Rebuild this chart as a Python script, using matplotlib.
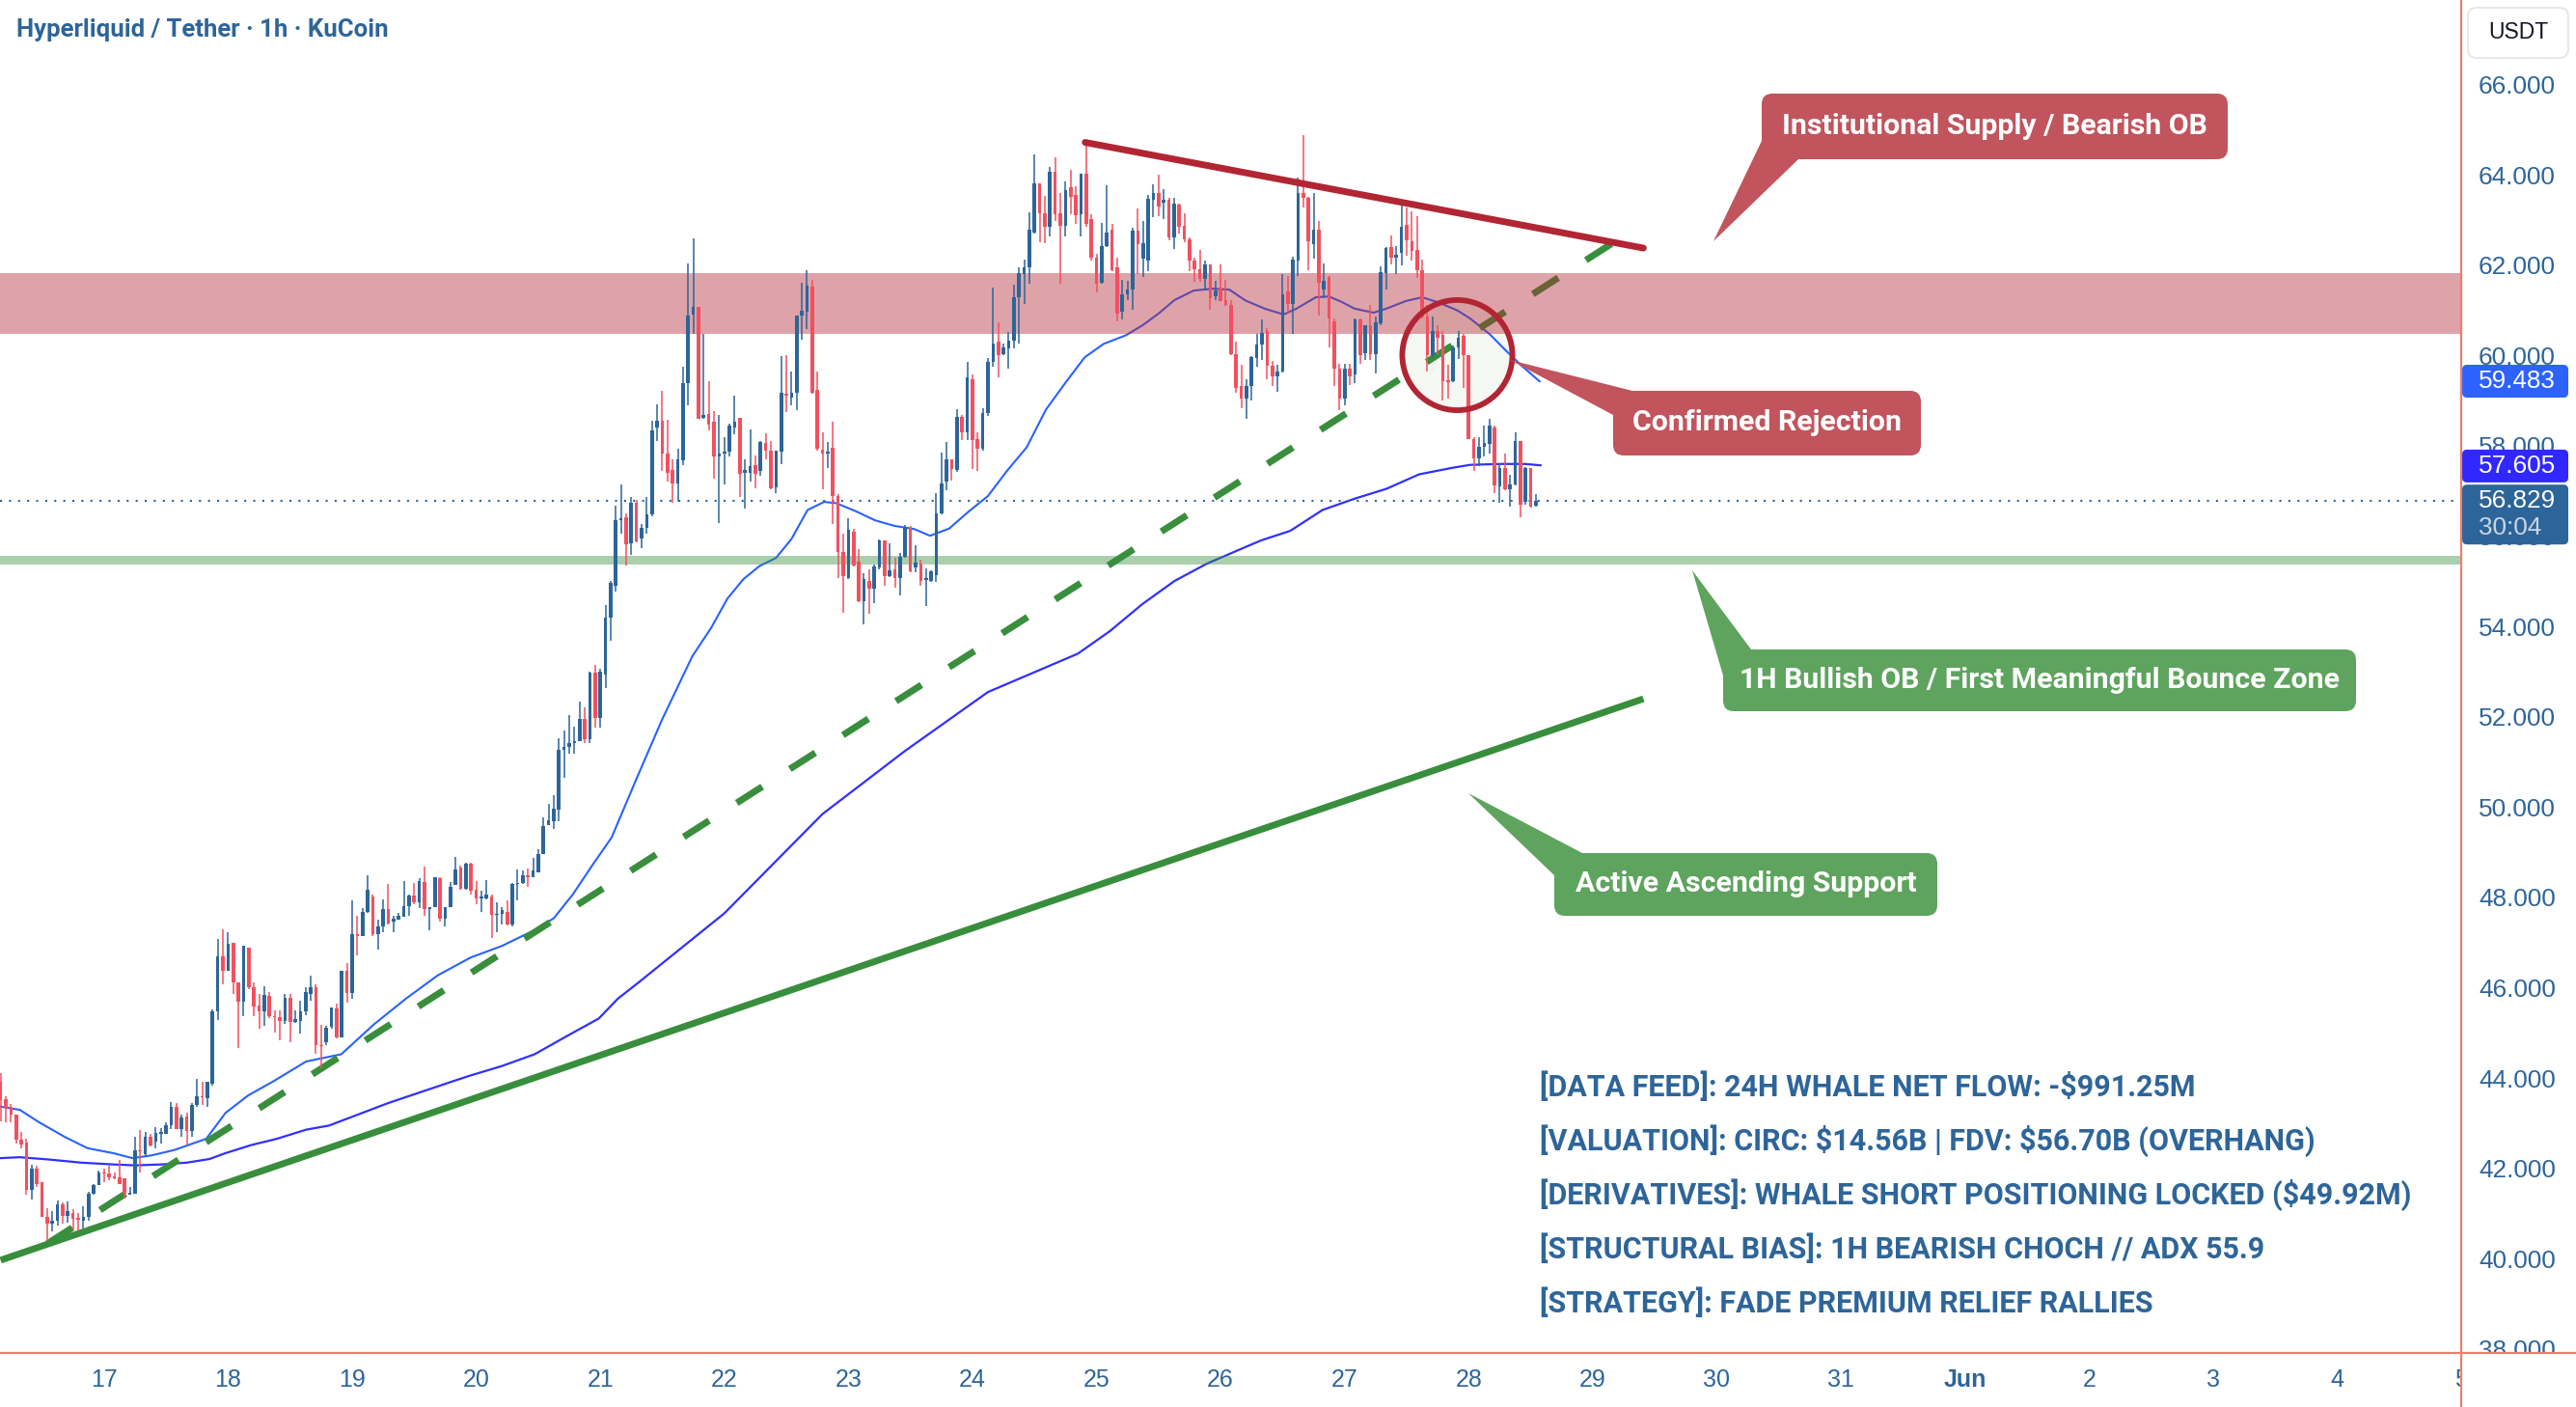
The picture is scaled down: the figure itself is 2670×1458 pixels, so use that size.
import numpy as np
import matplotlib
matplotlib.use('Agg')
import matplotlib.pyplot as plt
from matplotlib.patches import FancyBboxPatch, Polygon, Ellipse, Rectangle
from matplotlib.transforms import Affine2D, blended_transform_factory
from matplotlib.lines import Line2D

# ---------------- DATA ----------------
# hourly candles, x = hours since 16 May 04:00
O = [43.96,43.58,43.42,43.25,42.68,42.62,41.57,42.04,41.75,40.97,40.82,40.90,41.25,41.00,41.07,40.95,40.90,40.97,41.50,41.68,
     41.96,41.93,41.87,41.86,41.84,41.48,41.49,42.45,42.36,42.75,42.64,42.82,42.82,43.00,43.41,42.93,43.21,42.87,43.46,43.65,
     43.60,43.92,45.53,46.74,46.43,47.04,46.17,45.74,46.95,46.07,45.65,45.53,45.88,45.43,45.40,45.31,45.83,45.29,45.31,45.53,
     45.92,46.06,44.79,44.85,45.18,45.59,44.95,46.42,45.94,47.24,47.20,47.74,48.07,47.24,47.42,47.80,47.51,47.57,47.62,47.86,
     48.09,47.94,48.40,47.80,47.83,48.47,47.59,47.83,48.32,48.72,48.25,48.79,48.22,48.03,48.03,48.07,47.66,47.68,47.74,47.46,
     48.35,48.38,48.55,48.51,48.60,49.01,49.66,49.73,50.00,51.32,51.39,51.47,51.52,52.00,51.56,53.03,52.02,52.98,54.25,54.95,
     56.40,56.46,55.89,56.80,55.99,56.24,56.54,58.46,58.61,57.89,57.52,57.22,57.74,59.45,60.95,61.12,58.68,58.75,58.58,57.81,
     57.89,57.93,58.46,58.68,57.46,57.46,57.63,57.49,58.11,57.94,57.13,57.92,59.20,59.13,59.22,60.93,61.03,61.57,59.30,57.96,
     57.87,58.01,56.94,55.71,55.12,56.16,55.49,54.62,55.07,54.89,55.35,55.96,55.17,55.31,55.12,55.59,56.23,55.35,55.44,55.09,
     55.06,55.19,56.56,57.26,57.76,57.51,58.70,58.34,59.52,58.21,57.99,58.77,59.91,60.35,60.09,60.20,60.38,61.34,61.86,62.01,
     62.78,63.87,63.21,62.90,64.13,63.21,62.93,63.78,63.61,63.18,64.08,63.08,62.22,61.66,62.48,62.84,62.00,61.02,61.40,61.51,
     62.81,62.20,62.15,63.51,63.66,63.44,63.50,62.67,63.40,62.93,62.63,62.16,61.96,61.74,62.07,61.36,61.55,61.28,61.17,60.09,
     59.37,59.09,59.37,60.00,60.29,60.60,59.82,59.60,59.70,61.48,61.19,62.15,63.66,63.54,62.51,62.83,61.51,61.80,60.80,59.75,
     59.09,59.77,59.63,60.84,60.10,60.73,60.09,60.77,61.88,62.45,62.21,62.33,62.94,62.58,62.38,61.94,60.91,60.07,60.60,60.51,
     59.50,59.48,60.23,60.48,60.05,58.20,57.77,58.02,58.09,58.45,57.15,57.56,57.10,57.20,58.15,56.81,57.56,56.73]
Hh = [44.17,43.64,43.48,43.25,42.85,42.71,42.14,42.11,41.75,41.18,41.11,41.34,41.29,41.32,41.14,41.07,41.22,41.54,41.71,42.00,
     42.04,42.11,41.96,42.25,41.84,41.64,42.75,42.91,42.85,42.82,42.96,42.94,43.07,43.53,43.51,43.25,43.28,43.50,44.03,43.96,
     43.96,45.58,47.13,47.34,47.28,47.04,46.17,46.99,46.95,46.17,45.92,46.09,45.95,45.56,45.56,45.92,45.92,45.56,45.77,46.07,
     46.31,46.13,45.24,45.20,45.61,45.70,46.42,46.59,47.99,47.64,47.81,48.55,48.12,47.55,48.00,48.35,47.64,47.72,48.42,48.12,
     48.38,48.47,48.73,47.83,48.51,48.51,47.83,48.40,48.95,48.75,48.81,48.81,48.42,48.20,48.44,48.12,47.94,47.83,47.99,48.38,
     48.68,48.64,48.70,48.93,49.12,49.82,50.12,50.32,51.58,51.75,52.09,51.84,52.39,52.26,53.06,53.20,53.12,54.53,55.05,56.72,
     57.19,56.55,56.92,56.85,56.31,56.92,58.61,58.96,59.27,58.63,57.75,57.99,59.80,62.10,62.64,61.12,60.53,59.48,58.81,58.73,
     58.25,58.54,59.16,58.68,57.75,58.41,57.84,58.15,58.32,58.16,57.94,60.03,60.05,59.70,60.94,61.67,61.94,61.73,59.70,58.34,
     58.13,58.58,56.99,56.11,56.44,56.21,55.76,55.23,55.32,55.42,55.97,55.96,55.90,55.57,55.69,56.30,56.28,55.85,55.53,55.33,
     55.29,57.01,57.91,58.14,57.76,58.86,58.74,59.91,59.64,58.36,58.89,59.99,61.55,60.78,60.31,60.57,61.62,62.01,62.18,63.23,
     64.51,63.87,63.59,64.23,64.43,63.65,63.91,64.17,63.80,64.08,64.79,63.18,62.30,62.99,63.83,62.97,62.22,61.73,61.71,62.88,
     63.31,63.03,63.61,63.85,64.06,63.74,63.55,63.55,63.42,63.20,62.67,62.21,62.39,62.15,62.07,61.70,62.06,61.73,61.28,60.35,
     59.84,59.52,60.03,60.52,60.84,60.66,59.94,59.84,61.85,61.81,62.24,63.99,64.93,63.56,63.65,63.04,62.10,61.81,60.87,59.86,
     59.87,59.87,60.87,60.87,60.73,61.17,60.91,62.03,62.45,62.72,62.47,63.40,63.33,63.24,63.14,62.17,61.17,60.91,60.73,60.59,
     59.84,60.27,60.59,60.52,60.05,58.25,58.25,58.49,58.66,58.49,57.67,57.88,57.40,58.34,58.15,57.59,57.56,56.99]
L = [43.10,43.07,43.07,42.60,42.50,41.47,41.37,41.64,40.97,40.43,40.65,40.79,40.82,40.86,40.68,40.65,40.72,40.90,41.47,41.68,
     41.75,41.79,41.82,41.71,41.39,41.47,41.49,41.96,42.30,42.53,42.50,42.60,42.82,42.93,42.93,42.75,42.57,42.75,43.42,43.46,
     43.42,43.89,45.33,46.13,46.42,45.92,44.71,45.42,46.02,45.42,45.15,45.20,45.38,45.05,44.88,45.26,44.85,45.28,45.04,45.45,
     45.77,44.58,44.28,44.78,45.15,44.93,44.95,45.72,45.80,46.78,47.20,47.72,47.20,46.90,47.29,47.46,47.29,47.55,47.62,47.64,
     47.90,47.81,47.64,47.33,47.83,47.51,47.42,47.83,48.32,48.23,48.23,48.12,47.90,47.74,48.00,47.16,47.29,47.46,47.44,47.42,
     47.98,48.36,48.29,48.51,48.60,49.01,49.66,49.57,49.73,50.71,51.23,51.23,51.52,51.46,51.48,51.81,51.81,52.68,53.74,54.83,
     56.10,55.40,55.64,55.92,55.78,56.11,56.49,58.16,57.49,57.27,56.78,56.81,57.63,58.95,60.52,58.66,58.66,58.39,57.32,56.35,
     57.20,57.81,58.31,56.92,56.66,57.27,57.11,57.38,57.75,57.10,57.01,57.65,58.79,58.95,58.84,60.41,60.64,59.20,57.95,57.10,
     57.56,56.31,55.12,54.35,55.10,55.39,54.60,54.09,54.33,54.57,55.32,54.96,55.14,54.92,54.73,55.57,55.26,55.26,54.95,54.50,
     55.03,55.03,56.54,57.07,57.29,57.48,58.17,58.17,57.54,57.50,57.95,58.71,59.81,59.56,60.05,59.75,60.20,60.31,61.19,61.64,
     62.75,62.56,62.54,62.69,63.03,61.64,62.69,63.18,62.96,62.69,62.91,62.15,61.44,61.64,62.45,61.92,60.81,60.86,61.28,61.06,
     61.86,61.79,61.91,63.12,63.14,63.08,62.60,62.41,62.75,62.56,61.92,61.68,61.68,61.49,61.06,61.28,61.25,61.14,60.05,59.22,
     58.88,58.66,59.06,59.80,59.95,59.53,59.37,59.25,59.67,61.00,60.52,61.81,63.33,61.94,62.19,60.94,61.31,60.23,59.38,58.84,
     58.95,59.39,59.45,59.87,59.96,59.95,59.66,60.73,61.51,62.07,61.85,62.05,62.26,62.15,61.76,60.87,59.70,60.00,60.09,59.06,
     59.09,59.46,59.98,59.34,58.20,57.49,57.60,57.81,57.88,57.01,56.78,57.06,56.70,57.17,56.46,56.74,56.68,56.70]
C = [43.57,43.39,43.25,42.68,42.58,41.57,42.04,41.71,40.97,40.82,40.90,41.25,41.00,41.10,40.93,40.92,40.97,41.50,41.68,41.96,
     41.93,41.86,41.84,41.71,41.50,41.52,42.45,42.43,42.75,42.57,42.83,42.85,43.01,43.41,42.93,43.17,42.87,43.46,43.64,43.62,
     43.96,45.53,46.74,46.43,47.02,46.17,45.74,46.99,46.07,45.63,45.53,45.90,45.42,45.40,45.31,45.83,45.29,45.36,45.53,45.95,
     46.06,44.78,44.76,45.17,45.61,44.95,46.42,45.94,47.24,47.20,47.74,48.22,47.24,47.42,47.80,47.48,47.59,47.64,47.86,48.09,
     47.94,48.42,47.80,47.83,48.49,47.59,47.83,48.29,48.68,48.25,48.79,48.20,48.03,48.07,48.12,47.66,47.68,47.77,47.46,48.35,
     48.38,48.55,48.49,48.64,49.01,49.64,49.77,50.01,51.32,51.39,51.47,51.52,52.00,51.56,53.04,52.02,53.06,54.25,55.01,56.40,
     56.45,55.88,56.80,55.94,56.24,56.54,58.39,58.61,57.88,57.45,57.22,57.75,59.45,60.94,61.12,58.66,58.73,58.52,57.82,57.89,
     57.93,58.51,58.59,57.44,57.52,57.61,57.44,58.13,57.94,57.11,57.94,59.22,59.16,59.23,60.93,61.05,61.60,59.23,57.99,57.87,
     57.92,56.94,55.71,55.16,56.19,55.40,54.62,55.10,54.88,55.39,55.96,55.16,55.30,55.12,55.59,56.23,55.28,55.46,55.07,55.10,
     55.27,56.56,57.22,57.76,57.54,58.70,58.34,59.56,58.19,57.99,58.77,59.91,60.31,60.05,60.24,60.38,61.34,61.88,62.01,62.84,
     63.87,63.21,62.90,64.11,63.18,62.93,63.71,63.57,63.16,64.08,62.96,62.21,61.64,62.48,62.78,61.94,60.98,61.40,61.51,62.81,
     62.51,62.54,63.53,63.66,63.35,63.50,62.67,63.42,62.90,62.63,62.15,61.96,61.74,62.07,61.32,61.49,61.25,61.17,60.09,59.34,
     59.09,59.37,60.02,60.30,60.55,59.82,59.58,59.70,61.41,61.19,62.17,63.65,63.54,62.58,62.83,61.66,61.71,60.87,59.77,59.09,
     59.77,59.58,60.86,60.07,60.73,60.09,60.79,61.90,62.44,62.22,62.28,62.90,62.60,62.37,61.94,60.91,60.07,60.59,60.44,59.48,
     59.46,60.23,60.44,60.05,58.20,57.77,58.02,58.11,58.49,57.17,57.56,57.10,57.20,58.15,56.74,57.56,56.70,56.83]

ema_fast_h = [0,3.7,7.5,12.4,16.8,21.8,25.5,29.2,33.6,39.8,43.5,47.9,52.9,59.1,65.9,72.2,78.4,84.6,90.9,97.0,103.3,107,110.7,
              114.5,118.2,123.2,128,133.8,137.5,140.6,143.7,146.8,150.0,153.0,156.1,159.3,161.7,165.5,169.2,172.9,176.7,179.8,
              183.5,187.3,191.0,194.7,198.5,202.2,206.0,209.7,213.4,217.7,220.9,224.0,227.1,230.8,234.5,237.7,240.8,244.5,248.2,
              250.7,254.4,256.9,259.4,261.9,265.6,268.1,271.9,275.0,278.1,281.8,284.3,288.1,291.2,294.3,297.7]
ema_fast_v = [43.42,43.35,43.07,42.75,42.50,42.39,42.28,42.34,42.46,42.71,43.28,43.67,43.99,44.42,44.58,45.24,45.81,46.33,46.72,
              46.98,47.33,47.59,48.12,48.77,49.38,50.73,52.0,53.39,54.03,54.67,55.10,55.39,55.57,55.99,56.63,56.81,56.78,56.60,
              56.40,56.28,56.21,56.06,56.22,56.60,56.94,57.50,58.02,58.85,59.45,60.01,60.31,60.50,60.72,60.98,61.28,61.49,61.53,
              61.51,61.27,61.09,60.96,61.09,61.34,61.36,61.24,61.09,61.00,61.09,61.26,61.34,61.23,61.05,60.87,60.52,60.16,59.82,59.48]
ema_slow_h = [0,3.7,9.3,15.6,21.8,26.1,31.1,36,40.4,43.5,48.5,53.5,59.1,63.5,75,87.7,90.9,97.0,103.3,109.5,115.7,119.4,123.2,
              140,159,175,191,208.4,214.6,220.9,227.1,233.3,240.8,243.9,249.5,255.7,261.9,268.1,274.4,280.6,284.3,289.9,294.9,297.9]
ema_slow_v = [42.28,42.30,42.25,42.18,42.14,42.12,42.14,42.18,42.26,42.39,42.57,42.71,42.91,43.00,43.5,43.99,44.11,44.32,44.58,
              44.98,45.37,45.81,46.15,47.7,49.9,51.3,52.6,53.45,53.95,54.55,55.06,55.44,55.81,55.96,56.17,56.63,56.88,57.10,57.42,
              57.56,57.63,57.65,57.65,57.62]

supply_zone = (60.53, 61.88)
bounce_zone = (55.42, 55.62)
last_price = 56.829
fast_last, slow_last = 59.483, 57.605
bear_line = [(209.8, 64.77), (317.8, 62.43)]
dash_line = [(8.96, 40.38), (314.7, 62.75)]
support_line = [(0.0, 40.02), (317.8, 52.45)]
circle_center, circle_w, circle_h = (281.8, 60.06), 21.3, 2.44

day_ticks = [20 + 24*k for k in range(20)]
day_labels = ['17','18','19','20','21','22','23','24','25','26','27','28','29','30','31','Jun','2','3','4','5']
price_ticks = list(range(38, 67, 2))

info_lines = ["[DATA FEED]: 24H WHALE NET FLOW: -$991.25M",
              "[VALUATION]: CIRC: $14.56B | FDV: $56.70B (OVERHANG)",
              "[DERIVATIVES]: WHALE SHORT POSITIONING LOCKED ($49.92M)",
              "[STRUCTURAL BIAS]: 1H BEARISH CHOCH // ADX 55.9",
              "[STRATEGY]: FADE PREMIUM RELIEF RALLIES"]

# ---------------- STYLE ----------------
UP, DN = '#2c6599', '#f2505f'
TXT = '#2e6599'
AXC = '#ea8069'
REDL = '#b22533'
GRN = '#388e3c'
FONT = ['Liberation Sans', 'DejaVu Sans']
BOLD = ['Roboto', 'DejaVu Sans']

W, H = 2670, 1458
fig = plt.figure(figsize=(W/100, H/100), dpi=100)
fig.patch.set_facecolor('white')
ax = fig.add_axes([0, 1-1402/H, 2551/W, 1402/H])
ax.set_xlim(-0.12, 476.0)
ax.set_ylim(37.966, 67.923)
ax.axis('off')

tpx = Affine2D().scale(1/W, -1/H).translate(0, 1) + fig.transFigure

def ypx(p):
    return H - ax.transData.transform((0, p))[1]

# circle fill
ax.add_patch(Ellipse(circle_center, circle_w, circle_h, facecolor='#f4f7f2', edgecolor='none', zorder=1))

# EMAs
ax.plot(ema_fast_h, ema_fast_v, color='#2962ff', lw=1.5, zorder=2)
ax.plot(ema_slow_h, ema_slow_v, color='#3030ff', lw=1.6, zorder=2)

# dashed trend
ax.plot([p[0] for p in dash_line], [p[1] for p in dash_line], color=GRN, lw=5,
        dashes=(4.5, 4.9), solid_capstyle='butt', dash_capstyle='butt', zorder=2.5)

# zones
ax.axhspan(*supply_zone, color=REDL, alpha=0.42, lw=0, zorder=3)
ax.axhspan(*bounce_zone, color=GRN, alpha=0.42, lw=0, zorder=3)

# dotted last price
ax.axhline(last_price, color=UP, lw=1.5, linestyle=(0, (1, 3.5)), zorder=3.2)

# candles
Oa, Ha, La, Ca = map(np.array, (O, Hh, L, C))
xs = np.arange(len(Ca))
cols = np.where(Ca >= Oa, UP, DN)
ax.vlines(xs, La, Ha, colors=cols, lw=1.1, zorder=4)
ax.bar(xs, np.maximum(np.abs(Ca-Oa), 0.03), bottom=np.minimum(Oa, Ca), width=0.68,
       color=cols, linewidth=0, zorder=4.1)

# solid support + bear line
ax.plot([p[0] for p in support_line], [p[1] for p in support_line], color=GRN, lw=5,
        solid_capstyle='butt', zorder=4.5)
ax.plot([p[0] for p in bear_line], [p[1] for p in bear_line], color=REDL, lw=5,
        solid_capstyle='round', zorder=4.5)
ax.add_patch(Ellipse(circle_center, circle_w, circle_h, facecolor='none', edgecolor=REDL, lw=4.2, zorder=4.6))

# callouts (full-res pixel coords, y down)
def callout(box, tri, text, color, fs=21.8):
    x0, y0, x1, y1 = box
    fig.add_artist(Polygon(tri, closed=True, facecolor=color, edgecolor='none', transform=tpx, zorder=5))
    fig.add_artist(FancyBboxPatch((x0, y0), x1-x0, y1-y0, boxstyle='round,pad=0,rounding_size=11',
                                  facecolor=color, edgecolor='none', transform=tpx, zorder=5))
    fig.text((x0+x1)/2, (y0+y1)/2, text, transform=tpx, ha='center', va='center', color='white',
             fontsize=fs, fontweight='bold', family=BOLD, zorder=6)

RB, GB = '#c1545d', '#5ea35e'
callout((1826, 97, 2309, 165), [(1776, 250), (1826, 146), (1864, 165)], 'Institutional Supply / Bearish OB', RB)
callout((1672, 405, 1991, 472), [(1565, 373), (1692, 405), (1672, 430)], 'Confirmed Rejection', RB)
callout((1786, 673, 2442, 737), [(1754, 591), (1815, 673), (1786, 700)], '1H Bullish OB / First Meaningful Bounce Zone', GB)
callout((1611, 884, 2008, 949), [(1522, 822), (1640, 884), (1611, 907)], 'Active Ascending Support', GB)

# info block
for i, s in enumerate(info_lines):
    fig.text(1596, 1126 + 56*i, s, transform=tpx, ha='left', va='center', color=TXT, fontsize=22,
             fontweight='bold', family=BOLD, parse_math=False, zorder=6)

# title
fig.text(17, 31, 'Hyperliquid / Tether · 1h · KuCoin', transform=tpx, ha='left', va='center',
         color=TXT, fontsize=18.5, fontweight='bold', family=BOLD, zorder=6)

# day labels (in axes so the right panel covers the last one)
btr = blended_transform_factory(ax.transData, tpx)
for h, lab in zip(day_ticks, day_labels):
    ax.text(h, 1430, lab, transform=btr, ha='center', va='center', color=TXT, fontsize=18,
            family=FONT, fontweight='bold' if lab == 'Jun' else 'normal', clip_on=False)

# right price panel
fig.add_artist(Rectangle((2551, 0), W-2551, H, transform=tpx, facecolor='white', edgecolor='none', zorder=10))
for p in price_ticks:
    fig.text(2569, ypx(p), f'{p:.3f}', transform=tpx, ha='left', va='center', color=TXT,
             fontsize=18.8, family=FONT, zorder=11)
fig.add_artist(Rectangle((2551, 1402), W-2551, H-1402, transform=tpx, facecolor='white', edgecolor='none', zorder=12))

def tag(p, color, h=34, y0=None, y1=None):
    yc = ypx(p)
    a = yc - h/2 if y0 is None else y0
    b = yc + h/2 if y1 is None else y1
    fig.add_artist(FancyBboxPatch((2552, a), 110, b-a, boxstyle='round,pad=0,rounding_size=5',
                                  transform=tpx, facecolor=color, edgecolor='none', zorder=13))

tag(fast_last, '#2d62ff')
fig.text(2569, ypx(fast_last), f'{fast_last:.3f}', transform=tpx, ha='left', va='center', color='white',
         fontsize=18.8, family=FONT, zorder=14)
tag(slow_last, '#3128ff')
fig.text(2569, ypx(slow_last), f'{slow_last:.3f}', transform=tpx, ha='left', va='center', color='white',
         fontsize=18.8, family=FONT, zorder=14)
yl = ypx(last_price)
tag(last_price, '#2c6599', y0=yl-17, y1=yl+45)
fig.text(2569, yl, f'{last_price:.3f}', transform=tpx, ha='left', va='center', color='white',
         fontsize=18.8, family=FONT, zorder=14)
fig.text(2569, yl+28, '30:04', transform=tpx, ha='left', va='center', color='#c9d6e4',
         fontsize=18.8, family=FONT, zorder=14)

# USDT box
fig.add_artist(FancyBboxPatch((2558, 8), 104, 52, boxstyle='round,pad=0,rounding_size=9', transform=tpx,
                              facecolor='white', edgecolor='#e4e4e4', lw=1.2, zorder=13))
fig.text(2610, 34, 'USDT', transform=tpx, ha='center', va='center', color='#131722', fontsize=16.5,
         family=FONT, zorder=14)

# axis lines
fig.add_artist(Line2D([0, W], [1402, 1402], transform=tpx, color=AXC, lw=1.6, zorder=15))
fig.add_artist(Line2D([2551, 2551], [0, H], transform=tpx, color=AXC, lw=1.6, zorder=15))

fig.savefig('out.png', dpi=100, facecolor='white')
